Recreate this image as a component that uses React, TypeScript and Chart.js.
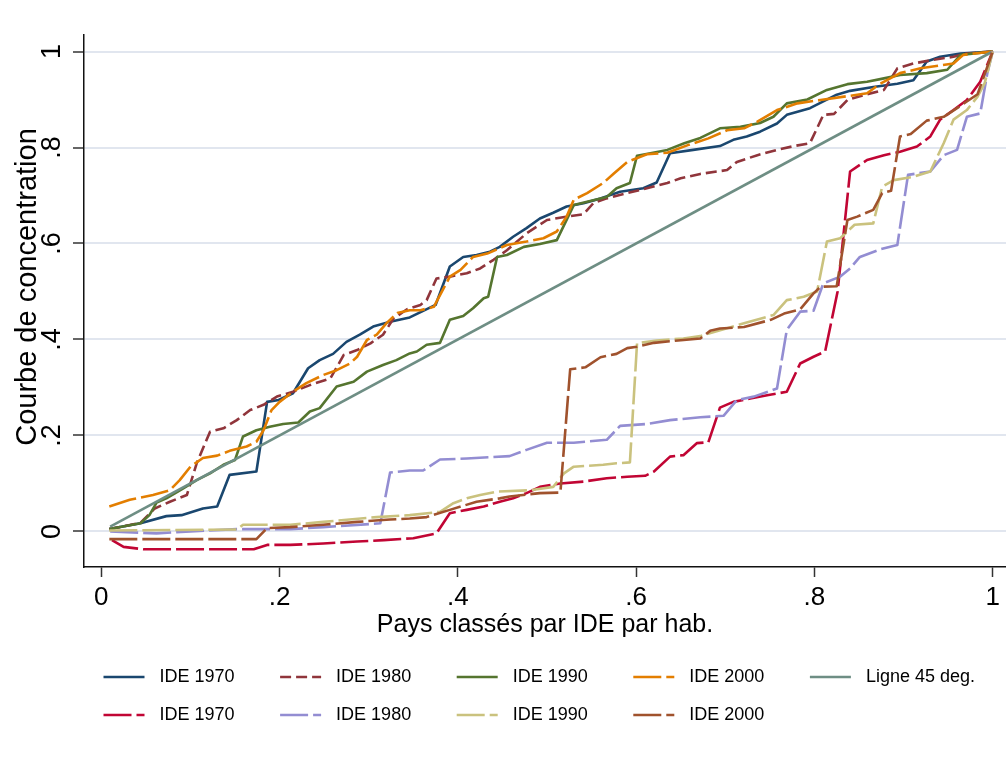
import { useEffect, useRef } from "react";
import { Chart, registerables } from "chart.js";

Chart.register(...registerables);

type Pt = [number, number];

const FONT = "'Liberation Sans', Arial, Helvetica, sans-serif";

// Axis ticks (shared by both axes)
const tickValues = [0, 0.2, 0.4, 0.6, 0.8, 1];
const tickLabels = ["0", ".2", ".4", ".6", ".8", "1"];

// Axis ranges
const xRange: Pt = [-0.0194, 1.0149];
const yRange: Pt = [-0.074, 1.0344];

const xTitle = "Pays classés par IDE par hab.";
const yTitle = "Courbe de concentration";

// Concentration curves, upper group
const ide1970Haut: Pt[] = [
  [0.009, 0.005], [0.044, 0.017], [0.073, 0.032], [0.09, 0.034], [0.114, 0.048], [0.13, 0.052],
  [0.144, 0.118], [0.174, 0.125], [0.186, 0.27], [0.199, 0.274], [0.215, 0.288], [0.232, 0.34],
  [0.245, 0.357], [0.26, 0.37], [0.275, 0.395], [0.29, 0.41], [0.305, 0.427], [0.324, 0.437],
  [0.346, 0.446], [0.375, 0.472], [0.391, 0.552], [0.406, 0.572], [0.421, 0.576], [0.436, 0.583],
  [0.447, 0.593], [0.462, 0.614], [0.477, 0.632], [0.492, 0.652], [0.507, 0.664], [0.522, 0.677],
  [0.541, 0.684], [0.56, 0.694], [0.582, 0.708], [0.608, 0.715], [0.623, 0.727], [0.638, 0.788],
  [0.664, 0.795], [0.694, 0.803], [0.709, 0.816], [0.724, 0.823], [0.739, 0.833], [0.758, 0.85],
  [0.769, 0.868], [0.795, 0.882], [0.81, 0.896], [0.825, 0.91], [0.84, 0.918], [0.866, 0.926],
  [0.893, 0.933], [0.911, 0.94], [0.926, 0.979], [0.941, 0.989], [0.964, 0.996], [1, 1],
];

const ide1980Haut: Pt[] = [
  [0.009, 0.005], [0.044, 0.018], [0.06, 0.048], [0.077, 0.062], [0.096, 0.076], [0.107, 0.142],
  [0.122, 0.208], [0.137, 0.215], [0.152, 0.232], [0.167, 0.253], [0.182, 0.264], [0.197, 0.281],
  [0.215, 0.291], [0.234, 0.305], [0.257, 0.319], [0.272, 0.368], [0.287, 0.378], [0.302, 0.392],
  [0.316, 0.41], [0.328, 0.444], [0.343, 0.463], [0.358, 0.472], [0.365, 0.482], [0.376, 0.527],
  [0.391, 0.531], [0.41, 0.538], [0.425, 0.548], [0.44, 0.566], [0.455, 0.586], [0.477, 0.621],
  [0.5, 0.649], [0.522, 0.656], [0.541, 0.661], [0.552, 0.684], [0.567, 0.694], [0.59, 0.705],
  [0.612, 0.715], [0.635, 0.726], [0.65, 0.736], [0.672, 0.745], [0.702, 0.753], [0.713, 0.77],
  [0.736, 0.784], [0.758, 0.795], [0.777, 0.803], [0.795, 0.809], [0.81, 0.868], [0.822, 0.87],
  [0.837, 0.899], [0.859, 0.911], [0.878, 0.92], [0.893, 0.965], [0.911, 0.975], [0.934, 0.983],
  [0.956, 0.989], [0.971, 0.996], [1, 1],
];

const ide1990Haut: Pt[] = [
  [0.009, 0.005], [0.044, 0.017], [0.054, 0.034], [0.062, 0.06], [0.073, 0.069], [0.092, 0.09],
  [0.107, 0.107], [0.122, 0.121], [0.137, 0.139], [0.15, 0.149], [0.159, 0.198], [0.174, 0.211],
  [0.189, 0.218], [0.204, 0.224], [0.221, 0.227], [0.234, 0.25], [0.245, 0.257], [0.264, 0.302],
  [0.283, 0.312], [0.298, 0.333], [0.316, 0.347], [0.331, 0.357], [0.346, 0.371], [0.354, 0.375],
  [0.365, 0.389], [0.38, 0.393], [0.391, 0.441], [0.406, 0.449], [0.417, 0.465], [0.429, 0.486],
  [0.434, 0.489], [0.444, 0.572], [0.455, 0.576], [0.474, 0.593], [0.492, 0.599], [0.511, 0.607],
  [0.53, 0.68], [0.545, 0.687], [0.567, 0.697], [0.578, 0.715], [0.593, 0.726], [0.601, 0.783],
  [0.616, 0.788], [0.635, 0.795], [0.654, 0.809], [0.672, 0.82], [0.694, 0.84], [0.717, 0.843],
  [0.739, 0.851], [0.754, 0.864], [0.769, 0.892], [0.792, 0.9], [0.814, 0.92], [0.837, 0.932],
  [0.859, 0.937], [0.878, 0.944], [0.896, 0.951], [0.926, 0.955], [0.949, 0.962], [0.964, 0.993],
  [1, 1],
];

const ide2000Haut: Pt[] = [
  [0.009, 0.052], [0.032, 0.066], [0.058, 0.076], [0.077, 0.086], [0.088, 0.107], [0.1, 0.135],
  [0.114, 0.153], [0.13, 0.158], [0.144, 0.168], [0.163, 0.177], [0.174, 0.187], [0.182, 0.211],
  [0.191, 0.253], [0.2, 0.27], [0.215, 0.291], [0.23, 0.309], [0.249, 0.326], [0.264, 0.336],
  [0.279, 0.35], [0.287, 0.364], [0.298, 0.399], [0.309, 0.41], [0.32, 0.434], [0.332, 0.455],
  [0.346, 0.461], [0.358, 0.461], [0.373, 0.468], [0.391, 0.531], [0.403, 0.545], [0.417, 0.572],
  [0.433, 0.579], [0.455, 0.597], [0.477, 0.604], [0.496, 0.611], [0.511, 0.625], [0.522, 0.656],
  [0.53, 0.691], [0.545, 0.705], [0.563, 0.726], [0.575, 0.746], [0.59, 0.77], [0.612, 0.786],
  [0.635, 0.789], [0.658, 0.805], [0.681, 0.819], [0.702, 0.836], [0.721, 0.84], [0.736, 0.854],
  [0.758, 0.878], [0.781, 0.892], [0.807, 0.899], [0.837, 0.907], [0.859, 0.913], [0.874, 0.933],
  [0.896, 0.955], [0.919, 0.965], [0.956, 0.975], [0.967, 0.993], [1, 1],
];

// Reference line y = x
const ligne45: Pt[] = [[0.01, 0.01], [1, 1]];

// Concentration curves, lower group
const ide1970Bas: Pt[] = [
  [0.012, -0.018], [0.025, -0.032], [0.047, -0.037], [0.171, -0.037], [0.186, -0.028], [0.212, -0.028],
  [0.249, -0.025], [0.287, -0.021], [0.317, -0.018], [0.35, -0.014], [0.376, -0.004], [0.391, 0.038],
  [0.41, 0.045], [0.429, 0.052], [0.447, 0.062], [0.462, 0.069], [0.477, 0.08], [0.492, 0.093],
  [0.515, 0.1], [0.541, 0.104], [0.567, 0.111], [0.59, 0.114], [0.61, 0.116], [0.62, 0.125],
  [0.638, 0.156], [0.653, 0.159], [0.668, 0.184], [0.681, 0.186], [0.694, 0.258], [0.709, 0.27],
  [0.728, 0.277], [0.747, 0.284], [0.769, 0.291], [0.784, 0.35], [0.799, 0.364], [0.812, 0.375],
  [0.826, 0.5], [0.84, 0.75], [0.859, 0.774], [0.878, 0.784], [0.896, 0.791], [0.915, 0.802],
  [0.93, 0.823], [0.941, 0.858], [0.956, 0.878], [0.971, 0.899], [0.986, 0.937], [1, 1],
];

const ide1980Bas: Pt[] = [
  [0.01, 0], [0.062, -0.004], [0.1, 0], [0.152, 0.005], [0.212, 0.005], [0.249, 0.009],
  [0.313, 0.017], [0.324, 0.123], [0.346, 0.127], [0.361, 0.127], [0.38, 0.15], [0.41, 0.152],
  [0.458, 0.157], [0.477, 0.17], [0.5, 0.185], [0.53, 0.185], [0.567, 0.191], [0.582, 0.22],
  [0.612, 0.224], [0.638, 0.232], [0.672, 0.238], [0.698, 0.241], [0.713, 0.274], [0.732, 0.281],
  [0.758, 0.298], [0.769, 0.42], [0.784, 0.458], [0.799, 0.46], [0.81, 0.517], [0.829, 0.531],
  [0.84, 0.548], [0.851, 0.572], [0.874, 0.588], [0.893, 0.597], [0.905, 0.743], [0.93, 0.75],
  [0.945, 0.784], [0.96, 0.795], [0.971, 0.864], [0.986, 0.871], [0.994, 0.955], [1, 1],
];

const ide1990Bas: Pt[] = [
  [0.009, 0.002], [0.152, 0.004], [0.159, 0.014], [0.212, 0.014], [0.249, 0.02], [0.309, 0.03],
  [0.346, 0.034], [0.38, 0.041], [0.395, 0.059], [0.41, 0.069], [0.425, 0.076], [0.444, 0.083],
  [0.481, 0.086], [0.507, 0.093], [0.519, 0.121], [0.53, 0.135], [0.563, 0.139], [0.578, 0.142],
  [0.593, 0.144], [0.601, 0.392], [0.623, 0.398], [0.653, 0.402], [0.672, 0.407], [0.721, 0.434],
  [0.754, 0.451], [0.769, 0.482], [0.788, 0.489], [0.803, 0.5], [0.814, 0.604], [0.829, 0.611],
  [0.845, 0.639], [0.866, 0.642], [0.876, 0.718], [0.889, 0.732], [0.911, 0.739], [0.93, 0.75],
  [0.945, 0.809], [0.956, 0.858], [0.971, 0.878], [0.983, 0.906], [0.991, 0.934], [1, 1],
];

const ide2000Bas: Pt[] = [
  [0.009, -0.016], [0.174, -0.016], [0.186, 0.007], [0.212, 0.009], [0.249, 0.014], [0.287, 0.02],
  [0.324, 0.025], [0.346, 0.027], [0.365, 0.03], [0.391, 0.045], [0.421, 0.062], [0.447, 0.069],
  [0.458, 0.073], [0.492, 0.08], [0.515, 0.081], [0.526, 0.338], [0.543, 0.342], [0.56, 0.363],
  [0.578, 0.37], [0.59, 0.382], [0.601, 0.385], [0.62, 0.393], [0.647, 0.398], [0.672, 0.402],
  [0.683, 0.418], [0.694, 0.423], [0.721, 0.426], [0.751, 0.441], [0.766, 0.454], [0.784, 0.463],
  [0.799, 0.496], [0.807, 0.51], [0.825, 0.511], [0.837, 0.649], [0.848, 0.656], [0.866, 0.67],
  [0.876, 0.705], [0.886, 0.71], [0.896, 0.823], [0.908, 0.828], [0.926, 0.856], [0.945, 0.864],
  [0.964, 0.887], [0.983, 0.911], [1, 1],
];

const seriesData: Pt[][] = [
  ide1970Haut, ide1980Haut, ide1990Haut, ide2000Haut, ligne45,
  ide1970Bas, ide1980Bas, ide1990Bas, ide2000Bas,
];
const seriesLabels = [
  "IDE 1970", "IDE 1980", "IDE 1990", "IDE 2000", "Ligne 45 deg.",
  "IDE 1970", "IDE 1980", "IDE 1990", "IDE 2000",
];
const seriesColors = [
  "#1a476f", "#90353b", "#55752f", "#e37e00", "#6e8e84",
  "#c10534", "#938dd2", "#cac27e", "#a0522d",
];
const seriesDashes: number[][] = [
  [], [11, 5], [], [28, 5], [],
  [28, 5], [28, 5], [28, 5], [28, 5],
];

const tickLabelFor = (v: number) => {
  const i = tickValues.findIndex((t) => Math.abs(t - v) < 1e-9);
  return i >= 0 ? tickLabels[i] : "";
};

// Legend laid out on a fixed 5-column grid under the plot
const gridLegend = {
  id: "gridLegend",
  afterDraw(chart: any) {
    const ctx: CanvasRenderingContext2D = chart.ctx;
    ctx.save();
    ctx.font = `18px ${FONT}`;
    ctx.textBaseline = "middle";
    ctx.textAlign = "left";
    chart.data.datasets.forEach((ds: any, i: number) => {
      const col = i % 5;
      const row = Math.floor(i / 5);
      const x = 103.5 + col * 176.6;
      const y = 677 + row * 38;
      ctx.strokeStyle = ds.borderColor;
      ctx.lineWidth = 2.6;
      ctx.lineCap = "butt";
      ctx.setLineDash(ds.borderDash || []);
      ctx.beginPath();
      ctx.moveTo(x, y);
      ctx.lineTo(x + 41, y);
      ctx.stroke();
      ctx.setLineDash([]);
      ctx.fillStyle = "#000";
      ctx.fillText(ds.label, x + 56, y);
    });
    ctx.restore();
  },
};

// Vertical axis title
const yAxisTitle = {
  id: "yAxisTitle",
  afterDraw(chart: any) {
    const ctx: CanvasRenderingContext2D = chart.ctx;
    ctx.save();
    ctx.translate(28, 287);
    ctx.rotate(-Math.PI / 2);
    ctx.font = `29px ${FONT}`;
    ctx.fillStyle = "#000";
    ctx.textAlign = "center";
    ctx.textBaseline = "middle";
    ctx.fillText(yTitle, 0, 0);
    ctx.restore();
  },
};

export default function App() {
  const canvasRef = useRef<HTMLCanvasElement | null>(null);

  useEffect(() => {
    const canvas = canvasRef.current;
    if (!canvas) return;
    const chart = new Chart(canvas, {
      type: "line",
      data: {
        datasets: seriesData.map((pts, i) => ({
          label: seriesLabels[i],
          data: pts.map(([x, y]) => ({ x, y })),
          borderColor: seriesColors[i],
          backgroundColor: seriesColors[i],
          borderDash: seriesDashes[i],
          borderWidth: 2.6,
          pointRadius: 0,
          fill: false,
          tension: 0,
          order: -i,
        })),
      },
      options: {
        animation: false,
        responsive: false,
        devicePixelRatio: 1,
        layout: { padding: { top: 35, right: 0, left: 0, bottom: 0 } },
        plugins: {
          legend: { display: false },
          tooltip: { enabled: false },
        },
        elements: {
          line: { borderJoinStyle: "round", borderCapStyle: "butt" },
        },
        scales: {
          x: {
            type: "linear",
            min: xRange[0],
            max: xRange[1],
            afterFit: (s: any) => {
              s.height = 200;
            },
            afterBuildTicks: (s: any) => {
              s.ticks = tickValues.map((v) => ({ value: v }));
            },
            ticks: {
              callback: (v: any) => tickLabelFor(Number(v)),
              font: { size: 26, family: FONT },
              color: "#000",
              padding: 5,
              maxRotation: 0,
              autoSkip: false,
            },
            grid: {
              drawOnChartArea: false,
              drawTicks: true,
              tickLength: 10,
              tickColor: "#333",
              tickWidth: 1.5,
            },
            border: { display: true, color: "#111", width: 1.5 },
            title: {
              display: true,
              text: xTitle,
              font: { size: 25, family: FONT },
              color: "#000",
              padding: { top: 0, bottom: 127 },
            },
          },
          y: {
            type: "linear",
            min: yRange[0],
            max: yRange[1],
            afterFit: (s: any) => {
              s.width = 84;
            },
            afterBuildTicks: (s: any) => {
              s.ticks = tickValues.map((v) => ({ value: v }));
            },
            ticks: {
              callback: (v: any) => tickLabelFor(Number(v)),
              font: { size: 27, family: FONT },
              color: "#000",
              padding: 9,
              minRotation: 90,
              maxRotation: 90,
              crossAlign: "center",
              autoSkip: false,
            },
            grid: {
              drawOnChartArea: true,
              drawTicks: true,
              tickLength: 11,
              color: "#e1e6ef",
              lineWidth: 2,
              tickColor: "#666",
              tickWidth: 2,
            },
            border: { display: true, color: "#111", width: 1.5 },
            title: { display: false },
          },
        },
      },
      plugins: [gridLegend, yAxisTitle],
    } as any);
    return () => chart.destroy();
  }, []);

  return (
    <div
      style={{
        position: "fixed",
        left: 0,
        top: 0,
        width: 1006,
        height: 767,
        background: "#fff",
      }}
    >
      <canvas ref={canvasRef} width={1006} height={767} style={{ width: 1006, height: 767, display: "block" }} />
    </div>
  );
}
